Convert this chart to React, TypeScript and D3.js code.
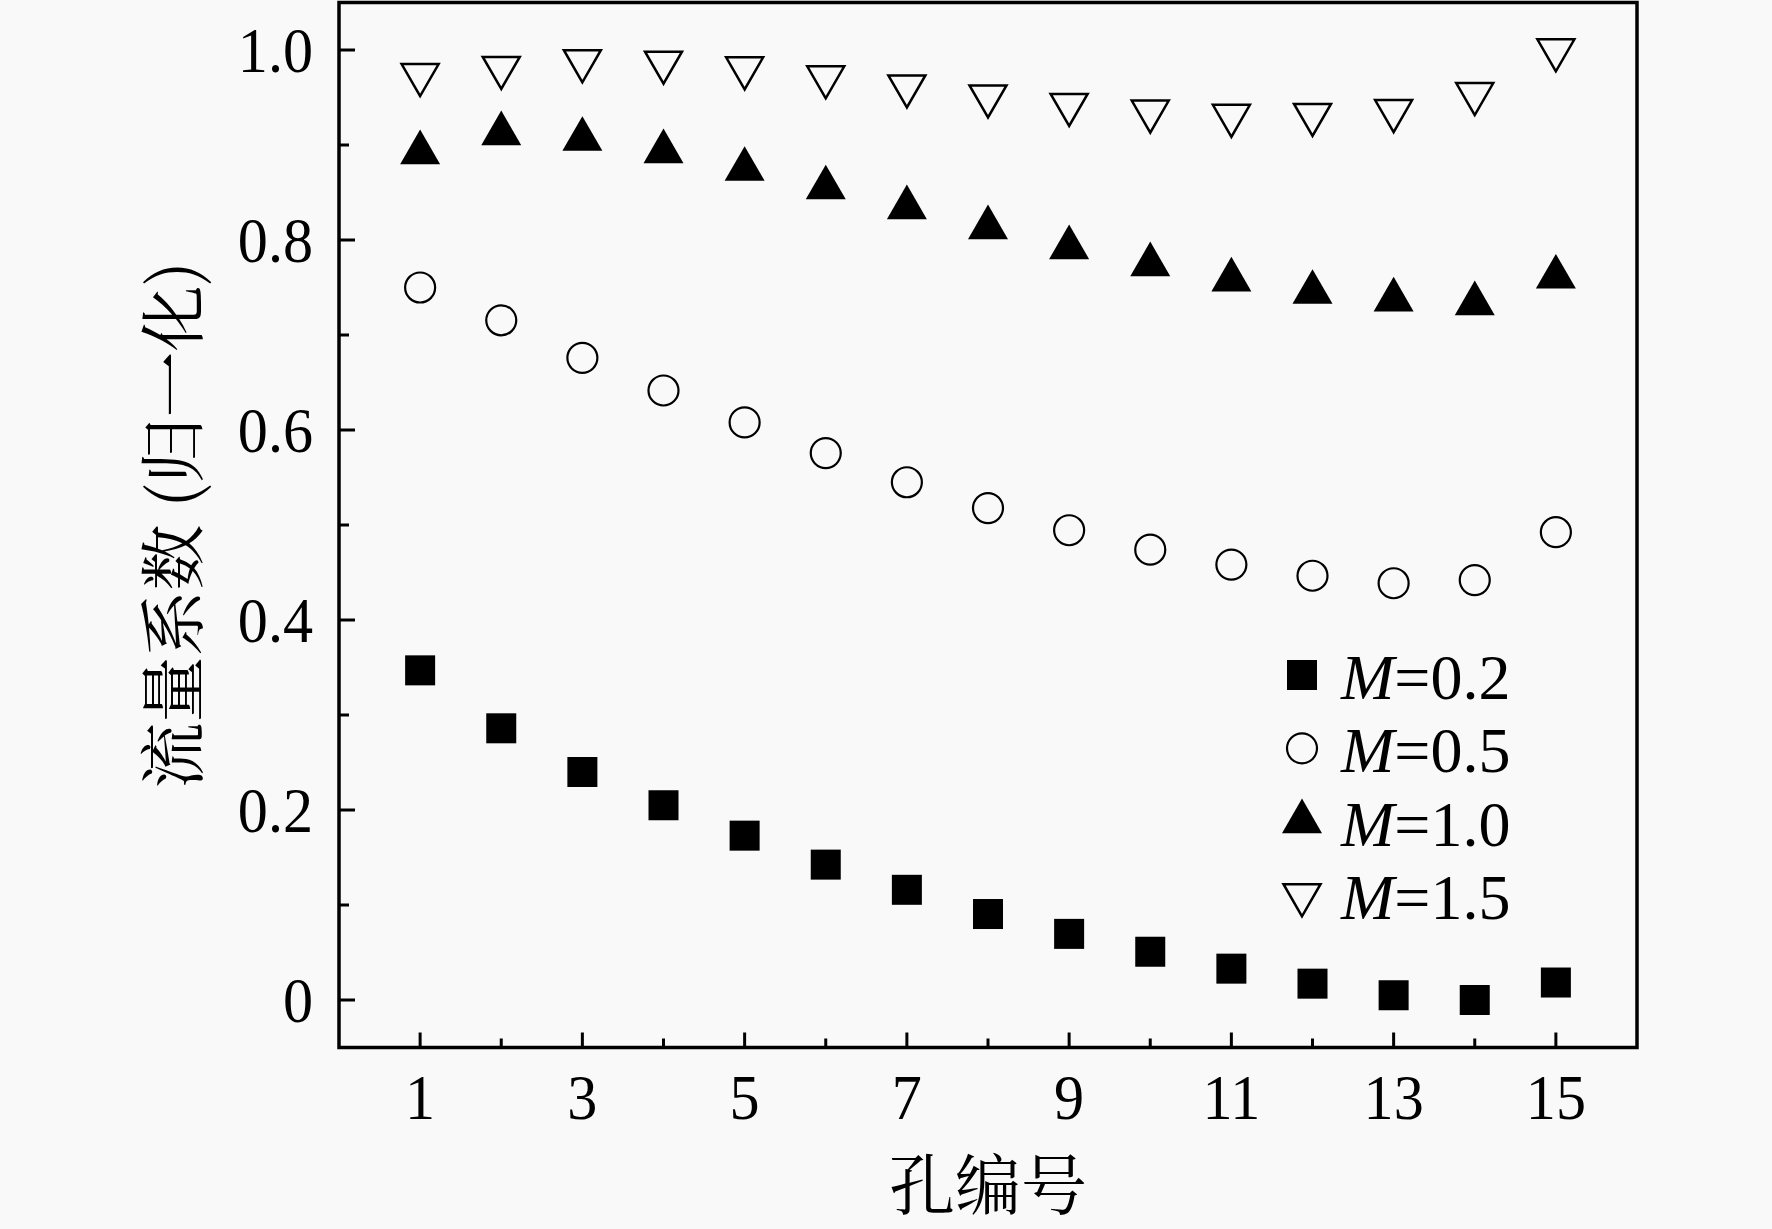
import React from 'react';
import * as d3 from 'd3';

const holes = [1, 2, 3, 4, 5, 6, 7, 8, 9, 10, 11, 12, 13, 14, 15];
const m02 = [0.347, 0.286, 0.24, 0.205, 0.173, 0.1425, 0.116, 0.0905, 0.0696, 0.0508, 0.033, 0.0172, 0.005, 0.0, 0.0184];
const m05 = [0.75, 0.7155, 0.676, 0.6416, 0.608, 0.5757, 0.545, 0.5178, 0.4945, 0.474, 0.4583, 0.4466, 0.4387, 0.442, 0.4924];
const m10 = [0.892, 0.912, 0.906, 0.893, 0.8745, 0.855, 0.834, 0.813, 0.792, 0.774, 0.758, 0.745, 0.737, 0.733, 0.761];
const m15 = [0.974, 0.9815, 0.9885, 0.987, 0.981, 0.9716, 0.962, 0.9515, 0.9425, 0.9355, 0.931, 0.932, 0.936, 0.954, 1.0];

const xMajorTicks = [1, 3, 5, 7, 9, 11, 13, 15];
const xMinorTicks = [2, 4, 6, 8, 10, 12, 14];
const yMajorTicks = [0, 0.2, 0.4, 0.6, 0.8, 1.0];
const yTickLabels = ['0', '0.2', '0.4', '0.6', '0.8', '1.0'];
const yMinorTicks = [0.1, 0.3, 0.5, 0.7, 0.9];
const seriesLabels = ['0.2', '0.5', '1.0', '1.5'];
const xTitle = '孔编号';
const yTitle = '流量系数 (归一化)';

const W = 1772;
const H = 1229;
const BG = '#f9f9f9';
const SERIF = '"Liberation Serif", "Times New Roman", serif';
const CJK = '"Noto Serif CJK SC", "Noto Sans CJK SC", sans-serif';

const x = d3.scaleLinear().domain([0, 16]).range([339, 1637]);
const y = d3.scaleLinear().domain([-0.05, 1.05]).range([1047.5, 2.5]);

const triSide = 40;
const triArea = (Math.sqrt(3) / 4) * triSide * triSide;
const triUp = d3.symbol().type(d3.symbolTriangle).size(triArea)() as string;
const triDownArea = (Math.sqrt(3) / 4) * 37 * 37;
const triDown = d3.symbol().type(d3.symbolTriangle).size(triDownArea)() as string;

type Kind = 'square' | 'circle' | 'up' | 'down';

function Marker({ kind, cx, cy }: { kind: Kind; cx: number; cy: number }) {
  if (kind === 'square') {
    return <rect x={cx - 15} y={cy - 15} width={30} height={30} fill="#000" />;
  }
  if (kind === 'circle') {
    return <circle cx={cx} cy={cy} r={15} fill="none" stroke="#000" strokeWidth={2.2} />;
  }
  if (kind === 'up') {
    return <path d={triUp} transform={`translate(${cx},${cy})`} fill="#000" />;
  }
  return (
    <path
      d={triDown}
      transform={`translate(${cx},${cy}) rotate(180)`}
      fill="none"
      stroke="#000"
      strokeWidth={2.5}
      strokeLinejoin="miter"
    />
  );
}

const series: { kind: Kind; values: number[] }[] = [
  { kind: 'square', values: m02 },
  { kind: 'circle', values: m05 },
  { kind: 'up', values: m10 },
  { kind: 'down', values: m15 },
];

const TICK_FS = 64;
const TICK_SX = 0.94;

export default function App() {
  const [x0, x1] = x.range();
  const [yb, yt] = y.range();
  const legendBase = 699;
  const legendStep = 73.3;
  return (
    <div style={{ position: 'fixed', left: 0, top: 0, width: W, height: H, background: BG }}>
      <svg width={W} height={H} viewBox={`0 0 ${W} ${H}`} style={{ display: 'block' }}>
        <rect x={0} y={0} width={W} height={H} fill={BG} />
        {/* ticks */}
        {xMajorTicks.map((t) => (
          <line key={'xM' + t} x1={x(t)} x2={x(t)} y1={yb} y2={yb - 15} stroke="#000" strokeWidth={3} />
        ))}
        {xMinorTicks.map((t) => (
          <line key={'xm' + t} x1={x(t)} x2={x(t)} y1={yb} y2={yb - 9} stroke="#000" strokeWidth={3} />
        ))}
        {yMajorTicks.map((t) => (
          <line key={'yM' + t} x1={x0} x2={x0 + 16} y1={y(t)} y2={y(t)} stroke="#000" strokeWidth={3} />
        ))}
        {yMinorTicks.map((t) => (
          <line key={'ym' + t} x1={x0} x2={x0 + 10} y1={y(t)} y2={y(t)} stroke="#000" strokeWidth={3} />
        ))}
        {/* frame */}
        <rect x={x0} y={yt} width={x1 - x0} height={yb - yt} fill="none" stroke="#000" strokeWidth={3.5} />
        {/* tick labels */}
        {xMajorTicks.map((t) => (
          <text
            key={'xl' + t}
            transform={`translate(${x(t)},1119) scale(${TICK_SX},1)`}
            textAnchor="middle"
            fontFamily={SERIF}
            fontSize={TICK_FS}
            fill="#000"
          >
            {t}
          </text>
        ))}
        {yMajorTicks.map((t, i) => (
          <text
            key={'yl' + t}
            transform={`translate(313,${y(t) + 22}) scale(${TICK_SX},1)`}
            textAnchor="end"
            fontFamily={SERIF}
            fontSize={TICK_FS}
            fill="#000"
          >
            {yTickLabels[i]}
          </text>
        ))}
        {/* axis titles */}
        <text x={(x0 + x1) / 2} y={1209} textAnchor="middle" fontFamily={CJK} fontSize={66} fill="#000">
          {xTitle}
        </text>
        <text
          transform={`translate(168, ${(yb + yt) / 2}) rotate(-90)`}
          textAnchor="middle"
          dominantBaseline="central"
          fontFamily={CJK}
          fontSize={66}
          fill="#000"
        >
          {yTitle}
        </text>
        {/* data */}
        {series.map((s) => (
          <g key={s.kind}>
            {s.values.map((v, i) => (
              <Marker key={i} kind={s.kind} cx={x(holes[i])} cy={y(v)} />
            ))}
          </g>
        ))}
        {/* legend */}
        {series.map((s, i) => {
          const base = legendBase + i * legendStep;
          return (
            <g key={'lg' + s.kind}>
              <Marker kind={s.kind} cx={1302} cy={base - 24} />
              <text x={1341} y={base} fontFamily={SERIF} fontSize={64} fill="#000">
                <tspan fontStyle="italic">M</tspan>
                <tspan>={seriesLabels[i]}</tspan>
              </text>
            </g>
          );
        })}
      </svg>
    </div>
  );
}
